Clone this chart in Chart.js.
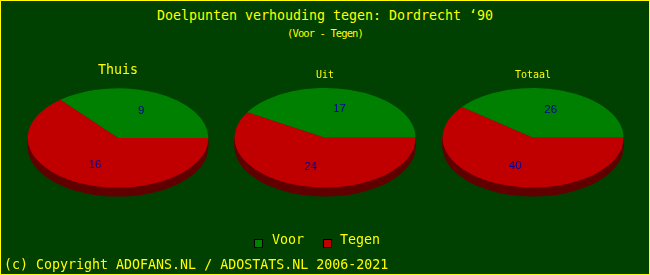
<!DOCTYPE html>
<html>
<head>
<meta charset="utf-8">
<script src="https://cdn.jsdelivr.net/npm/chart.js@4"></script>
<style>
  html, body { margin: 0; padding: 0; background: #004000; overflow: hidden; }
  #frame {
    position: relative; width: 650px; height: 275px; box-sizing: border-box;
    border: 1px solid #ffff00; background: #004000;
    font-family: "DejaVu Sans Mono", monospace; color: #ffff00;
  }
  .txt { position: absolute; white-space: pre; line-height: 1; }
  canvas { position: absolute; }
  .box { display: inline-block; width: 7px; height: 7px; border: 1px solid #000; position: absolute; }
</style>
</head>
<body>
<div id="frame">
  <canvas id="pie0" width="190" height="219" style="left:22px;top:49px;width:190px;height:219px"></canvas>
  <canvas id="pie1" width="190" height="219" style="left:229px;top:49px;width:190px;height:219px"></canvas>
  <canvas id="pie2" width="190" height="219" style="left:437px;top:49px;width:190px;height:219px"></canvas>
  <div class="txt" style="left:0;width:648px;text-align:center;top:8px;font-size:13.3px">Doelpunten verhouding tegen: Dordrecht ‘90</div>
  <div class="txt" style="left:0;width:648px;text-align:center;top:27px;font-size:10.5px;letter-spacing:-0.9px">(Voor - Tegen)</div>
  <span class="box" style="left:253px;top:238px;background:#008000"></span>
  <div class="txt" style="left:271px;top:232px;font-size:13.3px">Voor</div>
  <span class="box" style="left:322px;top:238px;background:#c00000"></span>
  <div class="txt" style="left:339px;top:232px;font-size:13.3px">Tegen</div>
  <div class="txt" style="left:3px;top:257px;font-size:13.3px">(c) Copyright ADOFANS.NL / ADOSTATS.NL 2006-2021</div>
</div>
<script>
// data
const series = ["Voor", "Tegen"];
const pieTitles = ["Thuis", "Uit", "Totaal"];
const voor = [9, 17, 26];
const tegen = [16, 24, 40];

const topColors = ["#008000", "#c00000"];
const sideColors = ["#004000", "#600000"];
const TILT = 50 / 91;
const DEPTH = 9;

function squashY(ctx, y0) {
  ctx.translate(0, y0);
  ctx.scale(1, TILT);
  ctx.translate(0, -y0);
}

// draws the pie flattened into an ellipse with a dark rim underneath
const tiltedPie = {
  id: "tiltedPie",
  beforeDatasetsDraw(chart) {
    const ctx = chart.ctx;
    const arcs = chart.getDatasetMeta(0).data;
    const y0 = arcs[0].y - arcs[0].outerRadius;
    for (let d = DEPTH; d > 0; d--) {
      ctx.save();
      ctx.translate(0, d);
      squashY(ctx, y0);
      arcs.forEach((arc, i) => {
        ctx.fillStyle = sideColors[i];
        ctx.beginPath();
        ctx.moveTo(arc.x, arc.y);
        ctx.arc(arc.x, arc.y, arc.outerRadius, arc.startAngle, arc.endAngle);
        ctx.closePath();
        ctx.fill();
      });
      ctx.restore();
    }
    ctx.save();
    squashY(ctx, y0);
  },
  afterDatasetsDraw(chart) {
    const ctx = chart.ctx;
    ctx.restore();
    const arcs = chart.getDatasetMeta(0).data;
    const values = chart.data.datasets[0].data;
    const y0 = arcs[0].y - arcs[0].outerRadius;
    ctx.save();
    ctx.font = "11.5px 'Liberation Sans'";
    ctx.fillStyle = "#000099";
    ctx.textAlign = "center";
    ctx.textBaseline = "middle";
    arcs.forEach((arc, i) => {
      const mid = (arc.startAngle + arc.endAngle) / 2;
      const r = arc.outerRadius * 0.6;
      const x = arc.x + Math.cos(mid) * r;
      const y = y0 + (arc.y - y0 + Math.sin(mid) * r) * TILT;
      ctx.fillText(String(values[i]), x, y);
    });
    ctx.restore();
  }
};

pieTitles.forEach((title, k) => {
  const total = voor[k] + tegen[k];
  const big = k === 0;
  new Chart(document.getElementById("pie" + k), {
    type: "pie",
    data: {
      labels: series,
      datasets: [{
        data: [voor[k], tegen[k]],
        backgroundColor: topColors,
        borderWidth: 0
      }]
    },
    options: {
      responsive: false,
      animation: false,
      events: [],
      // start Voor at 3 o'clock and let it run counter-clockwise
      rotation: 90 - 360 * voor[k] / total,
      layout: { padding: { left: 4, right: 4, top: 0, bottom: 0 } },
      plugins: {
        legend: { display: false },
        tooltip: { enabled: false },
        title: {
          display: true,
          text: title,
          color: "#ffff00",
          font: { family: "DejaVu Sans Mono", size: big ? 13.3 : 10, weight: "normal", lineHeight: 1.2 },
          padding: big ? { top: 13, bottom: 9.4 } : { top: 19.5, bottom: 6.5 }
        }
      }
    },
    plugins: [tiltedPie]
  });
});
</script>
</body>
</html>
